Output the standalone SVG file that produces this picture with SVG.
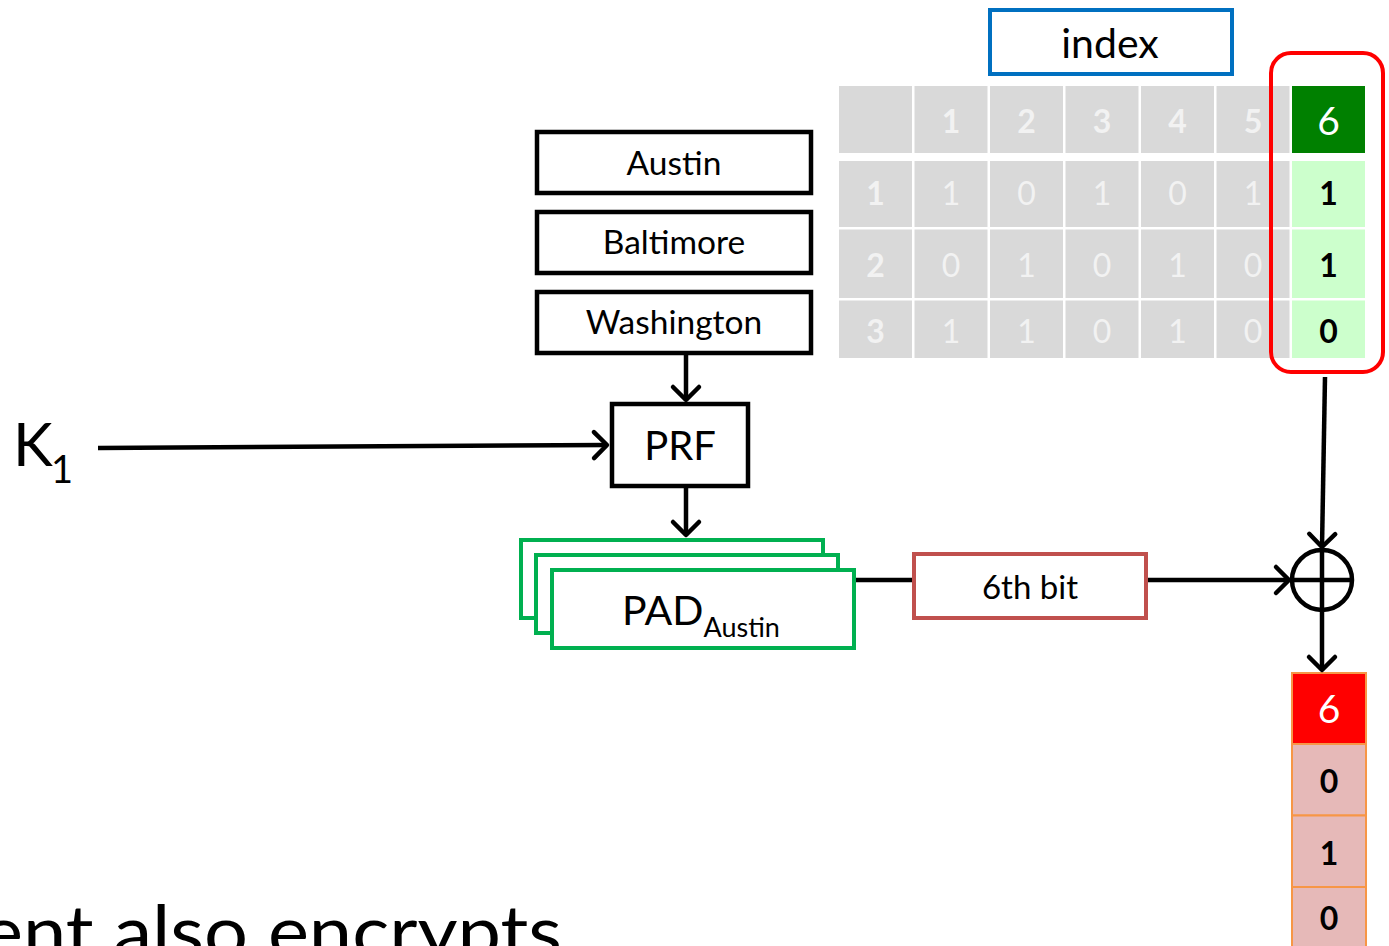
<svg xmlns="http://www.w3.org/2000/svg" width="1389" height="946" viewBox="0 0 1389 946">
<style>
text{font-family:Lato,"Open Sans","Liberation Sans",sans-serif;}
.box{fill:#fff;stroke:#000;stroke-width:4.5;}
.lbl{font-size:33.5px;fill:#000;text-anchor:middle;}
.g{fill:#D9D9D9;}
.gt{font-size:32px;fill:#F2F2F2;text-anchor:middle;}
.b{font-weight:bold;}
.bk{font-size:32px;fill:#000;text-anchor:middle;font-weight:bold;}
.six{font-size:39px;fill:#fff;text-anchor:middle;}
.pad{fill:#fff;stroke:#00B050;stroke-width:4;}
.ln{stroke:#000;stroke-width:4.5;fill:none;}
.rc{stroke:#F79646;stroke-width:2;}
</style>
<defs>
<marker id="arr" viewBox="-18 -18 36 36" refX="0" refY="0" markerWidth="36" markerHeight="36" markerUnits="userSpaceOnUse" orient="auto">
<path d="M-13,-13 L0,0 L-13,13" fill="none" stroke="#000" stroke-width="4.5" stroke-linecap="round" stroke-linejoin="round"/>
</marker>
</defs>
<rect width="1389" height="946" fill="#fff"/>

<g id="table">
<rect class="g" x="839" y="86" width="73" height="67"/>
<rect class="g" x="914.5" y="86" width="73" height="67"/>
<rect class="g" x="990" y="86" width="73" height="67"/>
<rect class="g" x="1065.5" y="86" width="73" height="67"/>
<rect class="g" x="1141" y="86" width="73" height="67"/>
<rect class="g" x="1216.5" y="86" width="73" height="67"/>
<rect x="1292" y="86" width="73" height="67" fill="#008000"/>
<rect class="g" x="839" y="161" width="73" height="66"/>
<rect class="g" x="914.5" y="161" width="73" height="66"/>
<rect class="g" x="990" y="161" width="73" height="66"/>
<rect class="g" x="1065.5" y="161" width="73" height="66"/>
<rect class="g" x="1141" y="161" width="73" height="66"/>
<rect class="g" x="1216.5" y="161" width="73" height="66"/>
<rect x="1292" y="161" width="73" height="66" fill="#CCFFCC"/>
<rect class="g" x="839" y="229.5" width="73" height="68.5"/>
<rect class="g" x="914.5" y="229.5" width="73" height="68.5"/>
<rect class="g" x="990" y="229.5" width="73" height="68.5"/>
<rect class="g" x="1065.5" y="229.5" width="73" height="68.5"/>
<rect class="g" x="1141" y="229.5" width="73" height="68.5"/>
<rect class="g" x="1216.5" y="229.5" width="73" height="68.5"/>
<rect x="1292" y="229.5" width="73" height="68.5" fill="#CCFFCC"/>
<rect class="g" x="839" y="300.5" width="73" height="57.5"/>
<rect class="g" x="914.5" y="300.5" width="73" height="57.5"/>
<rect class="g" x="990" y="300.5" width="73" height="57.5"/>
<rect class="g" x="1065.5" y="300.5" width="73" height="57.5"/>
<rect class="g" x="1141" y="300.5" width="73" height="57.5"/>
<rect class="g" x="1216.5" y="300.5" width="73" height="57.5"/>
<rect x="1292" y="300.5" width="73" height="57.5" fill="#CCFFCC"/>

<text class="gt b" x="951" y="133">1</text>
<text class="gt b" x="1026.5" y="133">2</text>
<text class="gt b" x="1102" y="133">3</text>
<text class="gt b" x="1177.5" y="133">4</text>
<text class="gt b" x="1253" y="133">5</text>
<text class="six" x="1328.5" y="135">6</text>

<text class="gt b" x="875.5" y="205">1</text>
<text class="gt" x="951" y="205">1</text>
<text class="gt" x="1026.5" y="205">0</text>
<text class="gt" x="1102" y="205">1</text>
<text class="gt" x="1177.5" y="205">0</text>
<text class="gt" x="1253" y="205">1</text>
<text class="bk" x="1328.5" y="205">1</text>

<text class="gt b" x="875.5" y="277">2</text>
<text class="gt" x="951" y="277">0</text>
<text class="gt" x="1026.5" y="277">1</text>
<text class="gt" x="1102" y="277">0</text>
<text class="gt" x="1177.5" y="277">1</text>
<text class="gt" x="1253" y="277">0</text>
<text class="bk" x="1328.5" y="277">1</text>

<text class="gt b" x="875.5" y="343">3</text>
<text class="gt" x="951" y="343">1</text>
<text class="gt" x="1026.5" y="343">1</text>
<text class="gt" x="1102" y="343">0</text>
<text class="gt" x="1177.5" y="343">1</text>
<text class="gt" x="1253" y="343">0</text>
<text class="bk" x="1328.5" y="343">0</text>
</g>

<g id="index">
<rect x="990" y="10" width="242" height="64" fill="#fff" stroke="#0070C0" stroke-width="4"/>
<text x="1110" y="58" font-size="41" text-anchor="middle" fill="#000">index</text>
</g>

<g id="selection">
<rect x="1271" y="53" width="112" height="319" rx="20" fill="none" stroke="#FF0000" stroke-width="4"/>
</g>

<g id="austin">
<rect class="box" x="537" y="132" width="274" height="61"/>
<text class="lbl" x="674" y="175">Austin</text>
</g>
<g id="baltimore">
<rect class="box" x="537" y="212" width="274" height="61"/>
<text class="lbl" x="674" y="254">Baltimore</text>
</g>
<g id="washington">
<rect class="box" x="537" y="292" width="274" height="61"/>
<text class="lbl" x="674" y="334">Washington</text>
</g>

<g id="k1">
<text x="13" y="466" font-size="60" fill="#000">K</text>
<text x="51" y="483" font-size="38" fill="#000">1</text>
</g>

<g id="prf">
<rect class="box" x="612" y="404" width="136" height="82"/>
<text x="680" y="460" font-size="40" text-anchor="middle" fill="#000">PRF</text>
</g>

<g id="pad">
<rect class="pad" x="521" y="540" width="302" height="78"/>
<rect class="pad" x="536" y="555" width="302" height="78"/>
<rect class="pad" x="552" y="570" width="302" height="78"/>
<text x="622" y="625" font-size="41" fill="#000">PAD<tspan font-size="27" dy="12">Austin</tspan></text>
</g>

<g id="bit6">
<rect x="914" y="554" width="232" height="64" fill="#fff" stroke="#C0504D" stroke-width="4"/>
<text x="1030" y="599" font-size="33" text-anchor="middle" fill="#000">6th bit</text>
</g>

<g id="xor">
<circle cx="1322" cy="580" r="30" fill="#fff" stroke="#000" stroke-width="4.5"/>
<line class="ln" x1="1292" y1="580" x2="1352" y2="580"/>
<line class="ln" x1="1322" y1="550" x2="1322" y2="610"/>
</g>

<g id="result">
<rect class="rc" x="1292" y="673" width="74" height="71" fill="#FF0000"/>
<rect class="rc" x="1292" y="744" width="74" height="71.5" fill="#E6B9B8"/>
<rect class="rc" x="1292" y="815.5" width="74" height="71.5" fill="#E6B9B8"/>
<rect class="rc" x="1292" y="887" width="74" height="71" fill="#E6B9B8"/>
<text class="six" x="1329" y="723">6</text>
<text class="bk" x="1329" y="793">0</text>
<text class="bk" x="1329" y="865">1</text>
<text class="bk" x="1329" y="930">0</text>
</g>

<g id="connectors">
<line class="ln" x1="98" y1="448" x2="607" y2="445" marker-end="url(#arr)"/>
<line class="ln" x1="686" y1="355" x2="686" y2="400" marker-end="url(#arr)"/>
<line class="ln" x1="686" y1="488" x2="686" y2="535" marker-end="url(#arr)"/>
<line class="ln" x1="856" y1="580" x2="912" y2="580"/>
<line class="ln" x1="1148" y1="580" x2="1289" y2="580" marker-end="url(#arr)"/>
<line class="ln" x1="1325" y1="377" x2="1322" y2="547" marker-end="url(#arr)"/>
<line class="ln" x1="1322" y1="612" x2="1322" y2="670" marker-end="url(#arr)"/>
</g>

<text x="-18" y="957" font-size="72" fill="#000" textLength="580" lengthAdjust="spacingAndGlyphs">ent also encrypts</text>
</svg>
